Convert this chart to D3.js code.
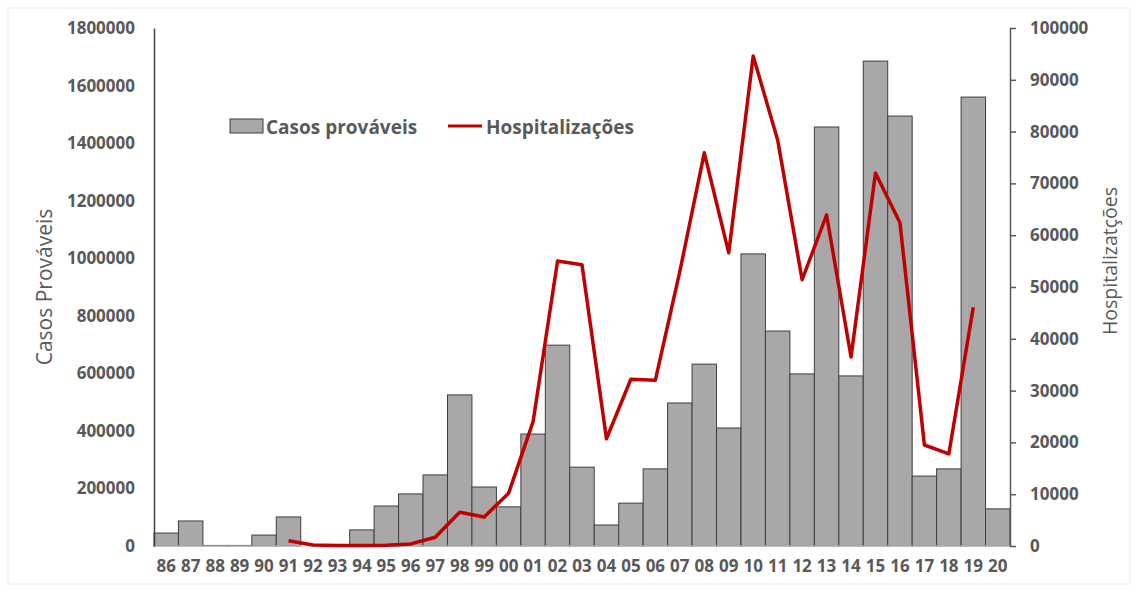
<!DOCTYPE html>
<html>
<head>
<meta charset="utf-8">
<script src="https://cdn.jsdelivr.net/npm/d3@7"></script>
<style>
body { margin: 0; background: #fff; }
text { font-family: "Open Sans", sans-serif; fill: #595959; }
</style>
</head>
<body>
<div id="contenedor"></div>
<script>
// anos (eixo x)
anos = ["86","87","88","89","90","91","92","93","94","95","96","97","98","99","00",
        "01","02","03","04","05","06","07","08","09","10","11","12","13","14","15",
        "16","17","18","19","20"]

// casos provaveis (barras)
casos = [45000, 87000, 2000, 2000, 38000, 101000, 0, 0, 56000, 139000, 181000, 247000,
         525000, 205000, 136000, 389000, 698000, 274000, 73000, 149000, 268000, 497000,
         632000, 410000, 1015000, 747000, 598000, 1456000, 591000, 1685000, 1494000,
         243000, 268000, 1560000, 129000]

// hospitalizacoes (linha), de 91 a 19
anosHosp = ["91","92","93","94","95","96","97","98","99","00","01","02","03","04","05",
            "06","07","08","09","10","11","12","13","14","15","16","17","18","19"]
hosp = [1000, 200, 100, 100, 150, 400, 1700, 6500, 5600, 10200, 24000, 55000, 54300,
        20700, 32200, 32000, 53000, 75900, 56600, 94600, 78400, 51400, 63900, 36500,
        72000, 62400, 19500, 17800, 46100]

ticksEsq = [0, 200000, 400000, 600000, 800000, 1000000, 1200000, 1400000, 1600000, 1800000]
ticksDir = [0, 10000, 20000, 30000, 40000, 50000, 60000, 70000, 80000, 90000, 100000]

ancho = 1138
alto = 590
x0 = 154, x1 = 1010, yTop = 28, yBase = 546

svg = d3.select("#contenedor").append("svg")
    .attr("width", ancho)
    .attr("height", alto)

// moldura clara
svg.append("rect")
    .attr("x", 8).attr("y", 8).attr("width", ancho - 16).attr("height", alto - 14)
    .attr("fill", "none").attr("stroke", "#ececec")

escalaX = d3.scaleBand().domain(anos).range([x0, x1]).padding(0)
escalaY = d3.scaleLinear().domain([0, 1800000]).range([yBase, yTop])
escalaY2 = d3.scaleLinear().domain([0, 100000]).range([yBase, yTop])

// barras
svg.selectAll("rect.barra")
    .data(casos)
    .enter()
    .append("rect")
    .attr("class", "barra")
    .attr("x", function(d, i) { return escalaX(anos[i]) })
    .attr("width", escalaX.bandwidth())
    .attr("y", function(d) { return escalaY(d) })
    .attr("height", function(d) { return yBase - escalaY(d) })
    .attr("fill", "#a9a7a7")
    .attr("stroke", "#3f3f3f")
    .attr("stroke-width", 1)

// linha base
svg.append("line")
    .attr("x1", x0).attr("x2", x1).attr("y1", yBase).attr("y2", yBase)
    .attr("stroke", "#d9d9d9")

// linha de hospitalizacoes
linea = d3.line()
    .x(function(d, i) { return escalaX(anosHosp[i]) + escalaX.bandwidth() / 2 })
    .y(function(d) { return escalaY2(d) })

svg.append("path")
    .datum(hosp)
    .attr("d", linea)
    .attr("fill", "none")
    .attr("stroke", "#c00000")
    .attr("stroke-width", 3.5)
    .attr("stroke-linejoin", "round")

// eixo esquerdo
ejeY = d3.axisLeft(escalaY).tickValues(ticksEsq).tickSize(0).tickPadding(19)
    .tickFormat(d3.format("d"))
gEsq = svg.append("g").attr("transform", "translate(" + x0 + ",0)").call(ejeY)
gEsq.select(".domain").attr("stroke", "#404040").attr("stroke-width", 1.5)
gEsq.selectAll("text").attr("font-size", 17).attr("font-weight", 700)
    .attr("font-family", "Open Sans").attr("fill", "#595959")

// eixo direito
ejeY2 = d3.axisRight(escalaY2).tickValues(ticksDir).tickSize(6).tickSizeOuter(0).tickPadding(14)
    .tickFormat(d3.format("d"))
gDir = svg.append("g").attr("transform", "translate(" + x1 + ",0)").call(ejeY2)
gDir.select(".domain").attr("stroke", "#595959").attr("stroke-width", 1.5)
gDir.selectAll("line").attr("stroke", "#595959").attr("stroke-width", 1.5)
gDir.selectAll("text").attr("font-size", 17).attr("font-weight", 700)
    .attr("font-family", "Open Sans").attr("fill", "#595959")

// eixo x
ejeX = d3.axisBottom(escalaX).tickSize(0).tickPadding(14)
gX = svg.append("g").attr("transform", "translate(0," + yBase + ")").call(ejeX)
gX.select(".domain").remove()
gX.selectAll("text").attr("font-size", 17).attr("font-weight", 700)
    .attr("font-family", "Open Sans").attr("fill", "#595959")

// titulos dos eixos
svg.append("text")
    .attr("transform", "translate(52,287) rotate(-90)")
    .attr("text-anchor", "middle")
    .attr("font-size", 21)
    .text("Casos Prováveis")

svg.append("text")
    .attr("transform", "translate(1117,261) rotate(-90)")
    .attr("text-anchor", "middle")
    .attr("font-size", 19.5)
    .text("Hospitalizatções")

// legenda
leg = svg.append("g")
leg.append("rect")
    .attr("x", 230).attr("y", 119).attr("width", 33).attr("height", 14)
    .attr("fill", "#a9a7a7").attr("stroke", "#3f3f3f")
leg.append("text")
    .attr("x", 266).attr("y", 134)
    .attr("font-size", 19).attr("font-weight", 700)
    .text("Casos prováveis")
leg.append("line")
    .attr("x1", 448).attr("x2", 482).attr("y1", 126).attr("y2", 126)
    .attr("stroke", "#c00000").attr("stroke-width", 3)
leg.append("text")
    .attr("x", 486).attr("y", 134)
    .attr("font-size", 19).attr("font-weight", 700)
    .text("Hospitalizações")
</script>
</body>
</html>
